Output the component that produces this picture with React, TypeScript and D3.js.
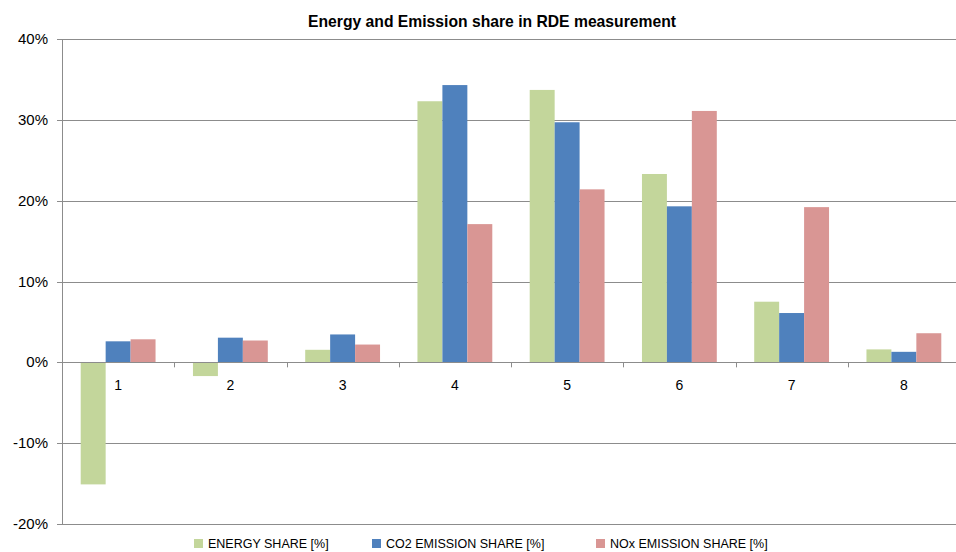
import React from "react";
import * as d3 from "d3";

const categories = ["1", "2", "3", "4", "5", "6", "7", "8"];
const seriesNames = ["ENERGY SHARE [%]", "CO2 EMISSION SHARE [%]", "NOx EMISSION SHARE [%]"];
const energyShare = [-15.1, -1.7, 1.55, 32.3, 33.7, 23.3, 7.5, 1.6];
const co2Share = [2.6, 3.05, 3.45, 34.3, 29.7, 19.3, 6.1, 1.3];
const noxShare = [2.85, 2.7, 2.2, 17.1, 21.4, 31.1, 19.2, 3.6];
const yTicks = [-20, -10, 0, 10, 20, 30, 40];
const colors = ["#c3d69b", "#4f81bd", "#d99694"];

const W = 956;
const H = 552;
const left = 62;
const right = 960;
const top = 39;
const bottom = 524;
const font = "'Liberation Sans', Arial, sans-serif";

export default function App() {
  const values = [energyShare, co2Share, noxShare];
  const y = d3.scaleLinear().domain([-20, 40]).range([bottom, top]);
  const x = d3.scaleBand().domain(categories).range([left, right]).paddingInner(0).paddingOuter(0);
  const bw = x.bandwidth();
  const xs = d3.scaleBand().domain(seriesNames).range([bw / 6, (bw * 5) / 6]);
  const y0 = y(0);
  const gridColor = "#8c8c8c";

  const legendX = [194, 372, 596];

  return (
    <svg width={W} height={H} style={{ position: "absolute", left: 0, top: 0, background: "#fff" }}>
      <text x={492} y={27} textAnchor="middle" fontFamily={font} fontWeight="bold" fontSize={15.7} fill="#000">
        Energy and Emission share in RDE measurement
      </text>
      {yTicks.map((t) => (
        <g key={t}>
          <line x1={left - 5} x2={W} y1={Math.round(y(t)) + 0.5} y2={Math.round(y(t)) + 0.5} stroke={gridColor} strokeWidth={1} />
          <text x={48} y={y(t) + 5} textAnchor="end" fontFamily={font} fontSize={15} fill="#000">
            {t}%
          </text>
        </g>
      ))}
      {values.map((vals, si) =>
        vals.map((v, ci) => {
          const bx = (x(categories[ci]) ?? 0) + (xs(seriesNames[si]) ?? 0);
          const yv = y(v);
          return (
            <rect
              key={`${si}-${ci}`}
              x={bx}
              y={Math.min(yv, y0)}
              width={xs.bandwidth()}
              height={Math.abs(yv - y0)}
              fill={colors[si]}
            />
          );
        })
      )}
      <line x1={left + 0.5} x2={left + 0.5} y1={top} y2={bottom} stroke={gridColor} strokeWidth={1} />
      <line x1={left} x2={W} y1={Math.round(y0) + 0.5} y2={Math.round(y0) + 0.5} stroke={gridColor} strokeWidth={1} />
      {categories.map((c) => (
        <g key={c}>
          <line
            x1={Math.round(x(c) ?? 0) + 0.5}
            x2={Math.round(x(c) ?? 0) + 0.5}
            y1={y0}
            y2={y0 + 5}
            stroke={gridColor}
          />
          <text x={(x(c) ?? 0) + bw / 2} y={390} textAnchor="middle" fontFamily={font} fontSize={14} fill="#000">
            {c}
          </text>
        </g>
      ))}
      {seriesNames.map((s, i) => (
        <g key={s}>
          <rect x={legendX[i]} y={539} width={9} height={9} fill={colors[i]} />
          <text x={legendX[i] + 14} y={548} fontFamily={font} fontSize={12.5} fill="#000">
            {s}
          </text>
        </g>
      ))}
    </svg>
  );
}
